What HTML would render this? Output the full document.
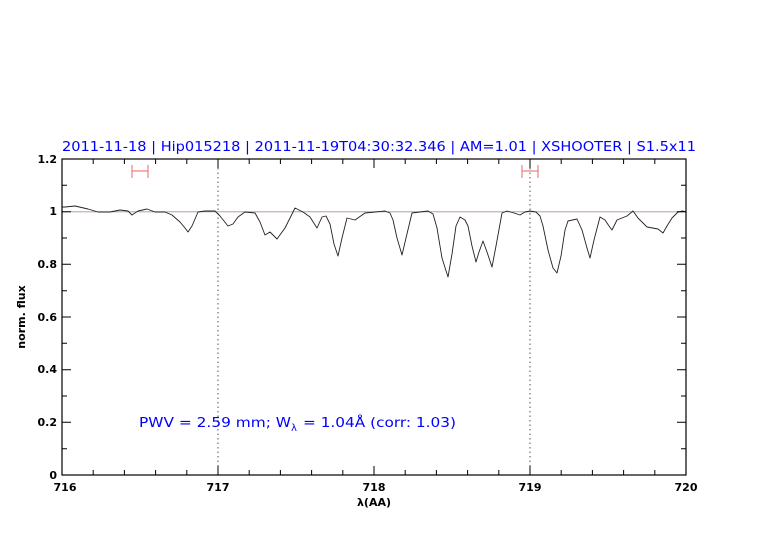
<!DOCTYPE html>
<html><head><meta charset="utf-8"><style>
html,body{margin:0;padding:0;background:#fff;}
svg text{font-family:"DejaVu Sans","Liberation Sans",sans-serif;}
</style></head><body>
<svg width="782" height="542" viewBox="0 0 782 542" xmlns="http://www.w3.org/2000/svg">
<rect width="782" height="542" fill="#fff"/>
<text x="62" y="151" font-size="13.5" fill="#0000ff" textLength="634" lengthAdjust="spacingAndGlyphs">2011-11-18 | Hip015218 | 2011-11-19T04:30:32.346 | AM=1.01 | XSHOOTER | S1.5x11</text>
<line x1="62" y1="211.8" x2="686" y2="211.8" stroke="#b09090" stroke-width="0.8"/>
<line x1="218" y1="159" x2="218" y2="475" stroke="#555" stroke-dasharray="1.5,3" stroke-width="1"/>
<line x1="530" y1="159" x2="530" y2="475" stroke="#555" stroke-dasharray="1.5,3" stroke-width="1"/>
<g stroke="#f08080" stroke-width="1.2" fill="none">
<path d="M132 171H148M132 165V178M148 165V178"/>
<path d="M522 171H538M522 165V178M538 165V178"/>
</g>
<polyline fill="none" stroke="#222" stroke-width="0.9" stroke-linejoin="round" points="62,207 65,207 75,206 88,209 98,212 110,212 120,210 128,211 132,215 138,211 147,209 155,212 165,212 172,215 180,222 185,228 188,232 192,226 198,212 205,211 215,211 220,216 228,226 233,224 238,217 245,212 255,213 260,222 265,235 270,232 277,239 285,228 291,216 295,208 303,212 310,217 317,228 322,217 326,216 330,224 334,244 338,256 342,238 347,218 355,220 365,213 375,212 385,211 390,213 393,220 397,238 402,255 406,238 412,213 420,212 428,211 433,214 437,228 442,258 448,277 452,254 456,226 460,217 465,220 468,226 472,246 476,262 479,252 483,241 487,252 492,267 496,246 502,213 507,211 514,213 520,215 525,212 530,211 536,212 540,216 543,226 548,250 553,268 557,273 561,256 565,230 568,221 577,219 582,230 587,248 590,258 594,240 600,217 605,220 609,226 612,230 617,220 627,216 633,211 638,218 647,227 658,229 663,233 667,226 672,218 678,212 683,211 686,212"/>
<rect x="62" y="159" width="624" height="316" fill="none" stroke="#000" stroke-width="1.2"/>
<g stroke="#000" stroke-width="1">
<path d="M62 475v-9M218 475v-9M374 475v-9M530 475v-9M62 159v9M218 159v9M374 159v9M530 159v9M686 159v9"/>
<path d="M93.2 475v-5M124.4 475v-5M155.6 475v-5M186.8 475v-5M249.2 475v-5M280.4 475v-5M311.6 475v-5M342.8 475v-5M405.2 475v-5M436.4 475v-5M467.6 475v-5M498.8 475v-5M561.2 475v-5M592.4 475v-5M623.6 475v-5M654.8 475v-5"/>
<path d="M93.2 159v5M124.4 159v5M155.6 159v5M186.8 159v5M249.2 159v5M280.4 159v5M311.6 159v5M342.8 159v5M405.2 159v5M436.4 159v5M467.6 159v5M498.8 159v5M561.2 159v5M592.4 159v5M623.6 159v5M654.8 159v5"/>
<path d="M62 422.3h9M62 369.7h9M62 317h9M62 264.3h9M62 211.7h9M686 422.3h-9M686 369.7h-9M686 317h-9M686 264.3h-9M686 211.7h-9"/>
<path d="M62 448.7h5M62 396h5M62 343.3h5M62 290.7h5M62 238h5M62 185.3h5M686 448.7h-5M686 396h-5M686 343.3h-5M686 290.7h-5M686 238h-5M686 185.3h-5"/>
</g>
<g font-size="11" font-weight="bold" fill="#000" text-anchor="end">
<text x="57" y="479">0</text><text x="57" y="426">0.2</text><text x="57" y="373">0.4</text><text x="57" y="321">0.6</text><text x="57" y="268">0.8</text><text x="57" y="215">1</text><text x="57" y="163">1.2</text>
</g>
<g font-size="11" font-weight="bold" fill="#000" text-anchor="middle">
<text x="65" y="491">716</text><text x="218" y="491">717</text><text x="374" y="491">718</text><text x="530" y="491">719</text><text x="686" y="491">720</text>
<text x="374" y="506">λ(AA)</text>
</g>
<text x="25" y="317" font-size="11" font-weight="bold" fill="#000" text-anchor="middle" transform="rotate(-90 25 317)">norm. flux</text>
<g font-size="13.5" fill="#0000ff">
<text x="139" y="427" textLength="152" lengthAdjust="spacingAndGlyphs">PWV = 2.59 mm; W</text>
<text x="291" y="431" font-size="10">λ</text>
<text x="303" y="427" textLength="153" lengthAdjust="spacingAndGlyphs">= 1.04Å (corr: 1.03)</text>
</g>
</svg>
</body></html>
